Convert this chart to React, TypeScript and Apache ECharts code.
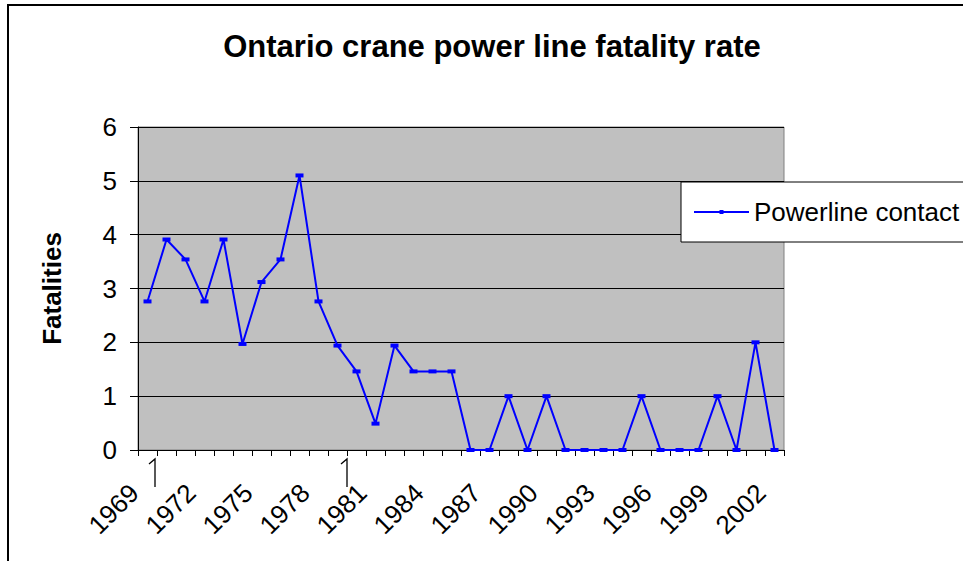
import React, { useEffect, useRef } from "react";
import * as echarts from "echarts";

const years: string[] = [
  "1969", "1970", "1971", "1972", "1973", "1974", "1975", "1976", "1977", "1978",
  "1979", "1980", "1981", "1982", "1983", "1984", "1985", "1986", "1987", "1988",
  "1989", "1990", "1991", "1992", "1993", "1994", "1995", "1996", "1997", "1998",
  "1999", "2000", "2001", "2002",
];
const powerlineContact: number[] = [
  2.76, 3.91, 3.54, 2.76, 3.91, 1.97, 3.12, 3.54, 5.1, 2.76,
  1.94, 1.46, 0.49, 1.94, 1.46, 1.46, 1.46, 0, 0, 1,
  0, 1, 0, 0, 0, 0, 1, 0, 0, 0,
  1, 0, 2, 0,
];
const seriesName = "Powerline contact";
const titleText = "Ontario crane power line fatality rate";
const yAxisTitle = "Fatalities";

export default function App() {
  const ref = useRef<HTMLDivElement>(null);
  useEffect(() => {
    if (!ref.current) return;
    const chart = echarts.init(ref.current, null, { renderer: "svg" });
    const font = "Arial, 'Liberation Sans', sans-serif";
    chart.setOption({
      animation: false,
      backgroundColor: "#fff",
      title: {
        text: titleText,
        left: 492,
        top: 31,
        padding: 0,
        textAlign: "center",
        textStyle: { fontFamily: font, fontSize: 31, fontWeight: "bold", color: "#000" },
      },
      legend: {
        left: 681,
        top: 182,
        padding: [17, 12, 17, 12],
        backgroundColor: "#fff",
        borderColor: "#000",
        borderWidth: 1,
        borderRadius: 0,
        itemWidth: 55,
        itemHeight: 5,
        textStyle: { fontFamily: font, fontSize: 26, color: "#000" },
        data: [seriesName],
      },
      grid: {
        left: 138,
        top: 127,
        right: 179,
        bottom: 111,
        show: true,
        backgroundColor: "#C0C0C0",
        borderColor: "#808080",
        borderWidth: 1,
      },
      xAxis: {
        type: "category",
        data: years,
        boundaryGap: true,
        axisLine: { lineStyle: { color: "#000", width: 1 } },
        axisTick: { show: true, interval: 0, length: 6, lineStyle: { color: "#000" } },
        axisLabel: {
          interval: 2,
          rotate: 45,
          margin: 25,
          padding: [0, 19, 0, 0],
          fontFamily: font,
          fontSize: 26,
          color: "#000",
        },
        splitLine: { show: false },
      },
      yAxis: {
        type: "value",
        min: 0,
        max: 6,
        interval: 1,
        name: yAxisTitle,
        nameLocation: "middle",
        nameGap: 73,
        nameTextStyle: { fontFamily: font, fontSize: 26, fontWeight: "bold", color: "#000" },
        axisLine: { show: true, lineStyle: { color: "#000", width: 1 } },
        axisTick: { show: true, length: 8, lineStyle: { color: "#000" } },
        axisLabel: { margin: 21, fontFamily: font, fontSize: 26, color: "#000" },
        splitLine: { show: true, lineStyle: { color: "#000", width: 1 } },
      },
      series: [
        {
          name: seriesName,
          type: "line",
          data: powerlineContact,
          color: "#0000FF",
          lineStyle: { color: "#0000FF", width: 2 },
          itemStyle: { color: "#0000FF" },
          symbol: "rect",
          symbolSize: [8, 4],
          showSymbol: true,
        },
      ],
      graphic: [
        {
          type: "rect",
          shape: { x: 8, y: 5, width: 1200, height: 1000 },
          style: { fill: "none", stroke: "#000", lineWidth: 2 },
          silent: true,
        },
        {
          type: "polyline",
          shape: { points: [[149, 464], [155, 459], [155, 487]] },
          style: { fill: "none", stroke: "#000", lineWidth: 1.3 },
          silent: true,
        },
        {
          type: "polyline",
          shape: { points: [[341, 464], [347, 459], [347, 487]] },
          style: { fill: "none", stroke: "#000", lineWidth: 1.3 },
          silent: true,
        },
      ],
    });
    return () => chart.dispose();
  }, []);
  return (
    <div
      ref={ref}
      style={{ position: "absolute", left: 0, top: 0, width: 963, height: 561 }}
    />
  );
}
